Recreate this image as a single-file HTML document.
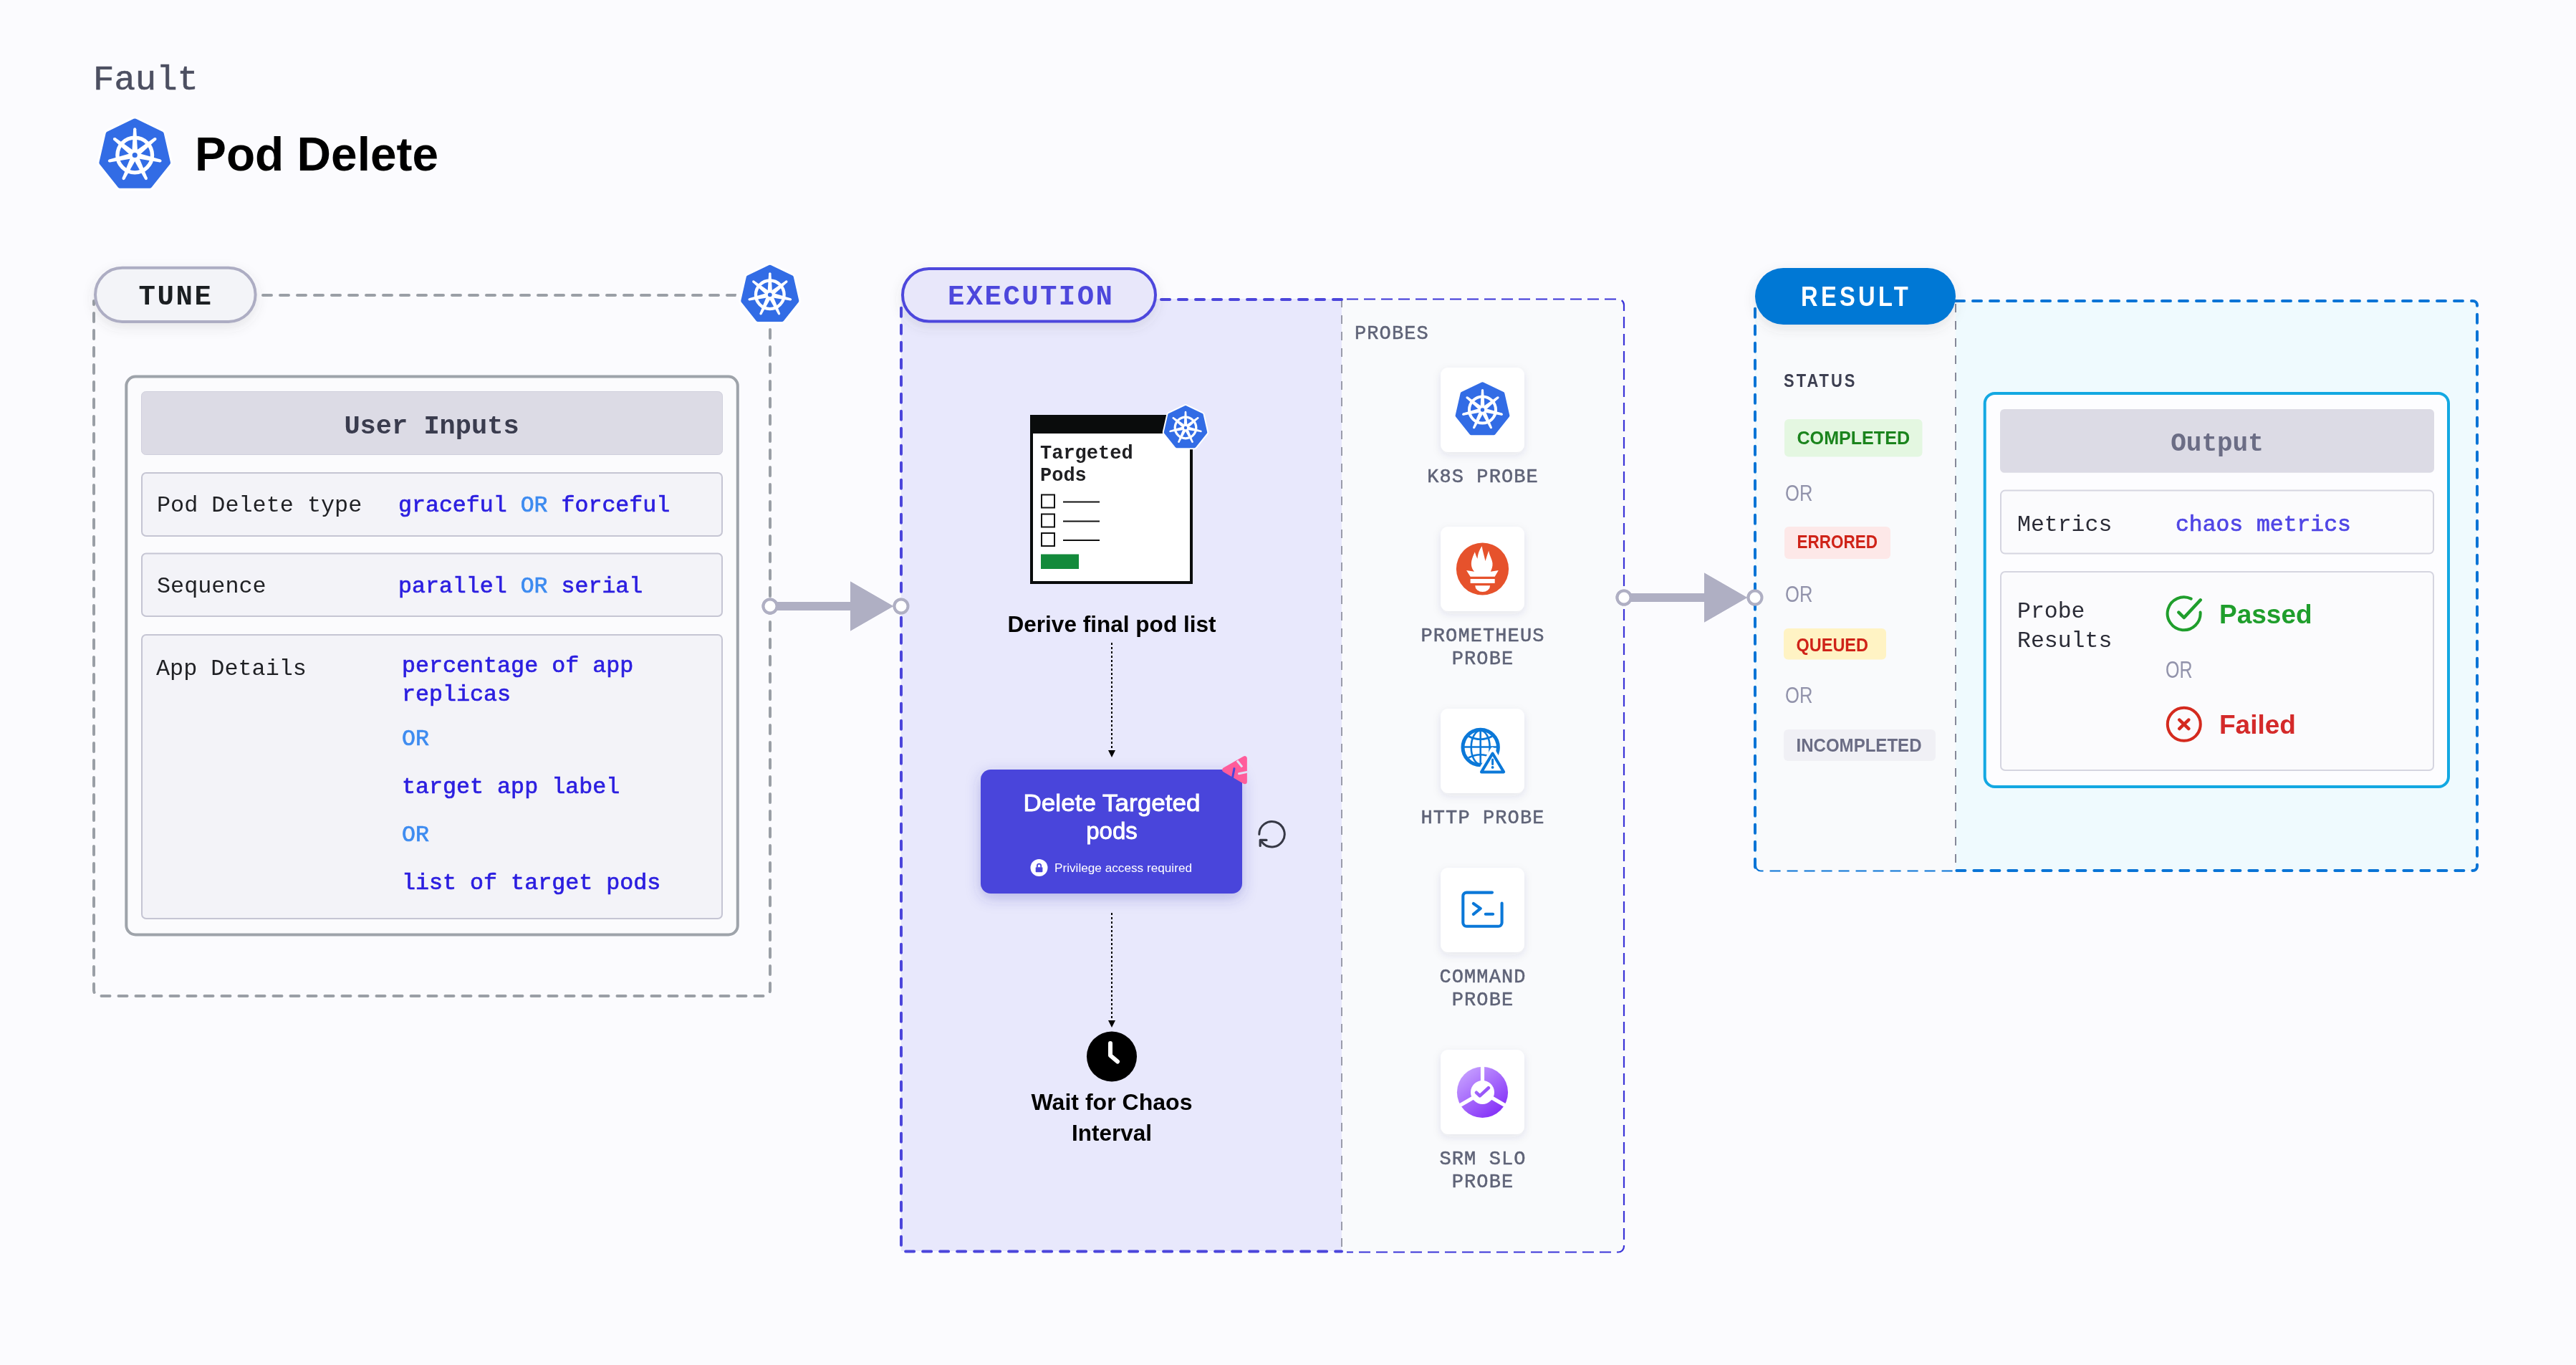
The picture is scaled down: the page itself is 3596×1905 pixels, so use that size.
<!DOCTYPE html><html><head><meta charset="utf-8"><style>html,body{margin:0;padding:0;background:#fbfbfe;}svg{display:block;will-change:transform}</style></head><body>
<svg width="3596" height="1905" viewBox="0 0 3596 1905">
<defs>
<filter id="sh" x="-40%" y="-60%" width="180%" height="240%"><feDropShadow dx="0" dy="6" stdDeviation="8" flood-color="#50505a" flood-opacity="0.13"/></filter>
<filter id="sh2" x="-40%" y="-40%" width="180%" height="200%"><feDropShadow dx="0" dy="4" stdDeviation="6" flood-color="#3c3c64" flood-opacity="0.10"/></filter>
<filter id="sh3" x="-40%" y="-60%" width="180%" height="240%"><feDropShadow dx="0" dy="6" stdDeviation="10" flood-color="#3a36b0" flood-opacity="0.30"/></filter>
<linearGradient id="srm" x1="0.15" y1="0.05" x2="0.85" y2="0.95"><stop offset="0" stop-color="#c6a0ff"/><stop offset="1" stop-color="#822cf7"/></linearGradient><linearGradient id="srm2" gradientUnits="userSpaceOnUse" x1="2060" y1="1516" x2="2078" y2="1530"><stop offset="0" stop-color="#a670fb"/><stop offset="1" stop-color="#9248f8"/></linearGradient>
</defs>
<rect x="0" y="0" width="3596" height="1905" fill="#fbfbfe"/>
<text x="130" y="124.6" font-family="Liberation Mono" font-size="49" fill="#4c4f61" font-weight="400" stroke="#4c4f61" stroke-width="0.6" >Fault</text>
<polygon points="188.20,169.07 225.28,186.93 234.44,227.05 208.78,259.23 167.62,259.23 141.96,227.05 151.12,186.93" fill="#fff" stroke="#fff" stroke-width="13.14" stroke-linejoin="round"/>
<polygon points="188.20,169.07 225.28,186.93 234.44,227.05 208.78,259.23 167.62,259.23 141.96,227.05 151.12,186.93" fill="#326ce5" stroke="#326ce5" stroke-width="7.14" stroke-linejoin="round"/>
<circle cx="188.2" cy="216.5" r="24.33" fill="none" stroke="#fff" stroke-width="5.35"/>
<polygon points="192.02,210.38 190.24,180.29 186.16,180.29 184.38,210.38" fill="#fff"/>
<circle cx="188.20" cy="180.29" r="2.04" fill="#fff"/>
<polygon points="195.37,215.67 217.78,195.52 215.24,192.33 190.60,209.69" fill="#fff"/>
<circle cx="216.51" cy="193.92" r="2.04" fill="#fff"/>
<polygon points="193.32,221.59 223.05,226.55 223.96,222.57 195.02,214.13" fill="#fff"/>
<circle cx="223.50" cy="224.56" r="2.04" fill="#fff"/>
<polygon points="187.41,223.67 202.07,250.01 205.75,248.24 194.30,220.35" fill="#fff"/>
<circle cx="203.91" cy="249.12" r="2.04" fill="#fff"/>
<polygon points="182.10,220.35 170.65,248.24 174.33,250.01 188.99,223.67" fill="#fff"/>
<circle cx="172.49" cy="249.12" r="2.04" fill="#fff"/>
<polygon points="181.38,214.13 152.44,222.57 153.35,226.55 183.08,221.59" fill="#fff"/>
<circle cx="152.90" cy="224.56" r="2.04" fill="#fff"/>
<polygon points="185.80,209.69 161.16,192.33 158.62,195.52 181.03,215.67" fill="#fff"/>
<circle cx="159.89" cy="193.92" r="2.04" fill="#fff"/>
<circle cx="188.2" cy="216.5" r="7.14" fill="#fff"/>
<circle cx="188.2" cy="216.5" r="3.57" fill="#326ce5"/>
<text x="272" y="238" font-family="Liberation Sans" font-size="65.8" fill="#000" font-weight="700" >Pod Delete</text>
<path d="M1027 412 H352" fill="none" stroke="#9a9fa6" stroke-width="4" stroke-dasharray="12 12" stroke-linecap="round"/>
<path d="M1075 460 V1382 A8 8 0 0 1 1067 1390 H139 A8 8 0 0 1 131 1382 V420" fill="none" stroke="#9a9fa6" stroke-width="4" stroke-dasharray="12 12" stroke-linecap="round"/>
<rect x="133" y="373.7" width="223.6" height="75.2" rx="37.6" fill="#f3f4f8" stroke="#adadc3" stroke-width="4" filter="url(#sh)"/>
<text x="193.5" y="425" font-family="Liberation Mono" font-size="39" fill="#1b1f22" font-weight="700" letter-spacing="2.6" >TUNE</text>
<polygon points="1074.80,372.71 1104.97,387.24 1112.43,419.89 1091.55,446.07 1058.05,446.07 1037.17,419.89 1044.63,387.24" fill="#fbfbfe" stroke="#fbfbfe" stroke-width="21.81" stroke-linejoin="round"/>
<polygon points="1074.80,372.71 1104.97,387.24 1112.43,419.89 1091.55,446.07 1058.05,446.07 1037.17,419.89 1044.63,387.24" fill="#326ce5" stroke="#326ce5" stroke-width="5.81" stroke-linejoin="round"/>
<circle cx="1074.8" cy="411.3" r="19.80" fill="none" stroke="#fff" stroke-width="4.36"/>
<polygon points="1077.91,406.32 1076.46,381.84 1073.14,381.84 1071.69,406.32" fill="#fff"/>
<circle cx="1074.80" cy="381.84" r="1.66" fill="#fff"/>
<polygon points="1080.63,410.63 1098.87,394.23 1096.80,391.63 1076.75,405.76" fill="#fff"/>
<circle cx="1097.84" cy="392.93" r="1.66" fill="#fff"/>
<polygon points="1078.96,415.44 1103.16,419.47 1103.90,416.24 1080.35,409.37" fill="#fff"/>
<circle cx="1103.53" cy="417.86" r="1.66" fill="#fff"/>
<polygon points="1074.16,417.14 1086.09,438.57 1089.08,437.13 1079.77,414.44" fill="#fff"/>
<circle cx="1087.58" cy="437.85" r="1.66" fill="#fff"/>
<polygon points="1069.83,414.44 1060.52,437.13 1063.51,438.57 1075.44,417.14" fill="#fff"/>
<circle cx="1062.02" cy="437.85" r="1.66" fill="#fff"/>
<polygon points="1069.25,409.37 1045.70,416.24 1046.44,419.47 1070.64,415.44" fill="#fff"/>
<circle cx="1046.07" cy="417.86" r="1.66" fill="#fff"/>
<polygon points="1072.85,405.76 1052.80,391.63 1050.73,394.23 1068.97,410.63" fill="#fff"/>
<circle cx="1051.76" cy="392.93" r="1.66" fill="#fff"/>
<circle cx="1074.8" cy="411.3" r="5.81" fill="#fff"/>
<circle cx="1074.8" cy="411.3" r="2.91" fill="#326ce5"/>
<polygon points="1074.80,372.71 1104.97,387.24 1112.43,419.89 1091.55,446.07 1058.05,446.07 1037.17,419.89 1044.63,387.24" fill="#fff" stroke="#fff" stroke-width="11.81" stroke-linejoin="round"/>
<polygon points="1074.80,372.71 1104.97,387.24 1112.43,419.89 1091.55,446.07 1058.05,446.07 1037.17,419.89 1044.63,387.24" fill="#326ce5" stroke="#326ce5" stroke-width="5.81" stroke-linejoin="round"/>
<circle cx="1074.8" cy="411.3" r="19.80" fill="none" stroke="#fff" stroke-width="4.36"/>
<polygon points="1077.91,406.32 1076.46,381.84 1073.14,381.84 1071.69,406.32" fill="#fff"/>
<circle cx="1074.80" cy="381.84" r="1.66" fill="#fff"/>
<polygon points="1080.63,410.63 1098.87,394.23 1096.80,391.63 1076.75,405.76" fill="#fff"/>
<circle cx="1097.84" cy="392.93" r="1.66" fill="#fff"/>
<polygon points="1078.96,415.44 1103.16,419.47 1103.90,416.24 1080.35,409.37" fill="#fff"/>
<circle cx="1103.53" cy="417.86" r="1.66" fill="#fff"/>
<polygon points="1074.16,417.14 1086.09,438.57 1089.08,437.13 1079.77,414.44" fill="#fff"/>
<circle cx="1087.58" cy="437.85" r="1.66" fill="#fff"/>
<polygon points="1069.83,414.44 1060.52,437.13 1063.51,438.57 1075.44,417.14" fill="#fff"/>
<circle cx="1062.02" cy="437.85" r="1.66" fill="#fff"/>
<polygon points="1069.25,409.37 1045.70,416.24 1046.44,419.47 1070.64,415.44" fill="#fff"/>
<circle cx="1046.07" cy="417.86" r="1.66" fill="#fff"/>
<polygon points="1072.85,405.76 1052.80,391.63 1050.73,394.23 1068.97,410.63" fill="#fff"/>
<circle cx="1051.76" cy="392.93" r="1.66" fill="#fff"/>
<circle cx="1074.8" cy="411.3" r="5.81" fill="#fff"/>
<circle cx="1074.8" cy="411.3" r="2.91" fill="#326ce5"/>
<rect x="176.3" y="525.5" width="853.5" height="779" rx="13" fill="#fbfbfd" stroke="#9ea3aa" stroke-width="4"/>
<rect x="197.5" y="546.5" width="811" height="88" rx="6" fill="#dcdbe5" stroke="#cfcfdc" stroke-width="1"/>
<text x="602.5" y="604.7" font-family="Liberation Mono" font-size="37" fill="#3a3c4e" font-weight="700" text-anchor="middle" >User Inputs</text>
<rect x="198" y="660" width="810" height="88" rx="6" fill="#f3f3f8" stroke="#c5c5d3" stroke-width="2"/>
<rect x="198" y="772.5" width="810" height="87.5" rx="6" fill="#f3f3f8" stroke="#c5c5d3" stroke-width="2"/>
<rect x="198" y="886" width="810" height="396" rx="6" fill="#f3f3f8" stroke="#c5c5d3" stroke-width="2"/>
<text x="219" y="714.2" font-family="Liberation Mono" font-size="31.8" fill="#1f2024" font-weight="400" >Pod Delete type</text>
<text x="556" y="714.2" font-family="Liberation Mono" font-size="31.6" fill="#2b1ee0" font-weight="500" stroke="#2b1ee0" stroke-width="0.7" >graceful <tspan fill="#3d8bf0" stroke="#3d8bf0">OR</tspan> forceful</text>
<text x="219" y="827.3" font-family="Liberation Mono" font-size="31.8" fill="#1f2024" font-weight="400" >Sequence</text>
<text x="556" y="827.3" font-family="Liberation Mono" font-size="31.6" fill="#2b1ee0" font-weight="500" stroke="#2b1ee0" stroke-width="0.7" >parallel <tspan fill="#3d8bf0" stroke="#3d8bf0">OR</tspan> serial</text>
<text x="218" y="942" font-family="Liberation Mono" font-size="31.8" fill="#1f2024" font-weight="400" >App Details</text>
<text x="561" y="937.5" font-family="Liberation Mono" font-size="31.7" fill="#2b1ee0" font-weight="500" stroke="#2b1ee0" stroke-width="0.7" >percentage of app</text>
<text x="561" y="978" font-family="Liberation Mono" font-size="31.7" fill="#2b1ee0" font-weight="500" stroke="#2b1ee0" stroke-width="0.7" >replicas</text>
<text x="561" y="1039.5" font-family="Liberation Mono" font-size="31.7" fill="#3d8bf0" font-weight="500" stroke="#3d8bf0" stroke-width="0.7" >OR</text>
<text x="561" y="1107" font-family="Liberation Mono" font-size="31.7" fill="#2b1ee0" font-weight="500" stroke="#2b1ee0" stroke-width="0.7" >target app label</text>
<text x="561" y="1174.3" font-family="Liberation Mono" font-size="31.7" fill="#3d8bf0" font-weight="500" stroke="#3d8bf0" stroke-width="0.7" >OR</text>
<text x="561" y="1240.5" font-family="Liberation Mono" font-size="31.7" fill="#2b1ee0" font-weight="500" stroke="#2b1ee0" stroke-width="0.7" >list of target pods</text>
<rect x="1075" y="840.0" width="114" height="12" fill="#afafc3"/>
<polygon points="1187,811.5 1247,846 1187,880.5" fill="#afafc3"/>
<circle cx="1075" cy="846" r="9.5" fill="#fff" stroke="#afafc3" stroke-width="4"/>
<circle cx="1258" cy="846" r="9.5" fill="#fff" stroke="#afafc3" stroke-width="4"/>
<rect x="1258" y="417" width="615" height="1329" fill="#e8e8fc"/>
<rect x="1873" y="417" width="394" height="1330" fill="#f9fafc"/>
<line x1="1873" y1="417" x2="1873" y2="1746" stroke="#9a9cab" stroke-width="2" stroke-dasharray="12 11"/>
<path d="M1873 418 H1264 A6 6 0 0 0 1258 424 V1740.5 A6 6 0 0 0 1264 1746.5 H1873" fill="none" stroke="#4b45db" stroke-width="4" stroke-dasharray="12 12" stroke-linecap="round"/>
<path d="M1880 417.5 H2259 A8 8 0 0 1 2267 425.5 V1739.5 A8 8 0 0 1 2259 1747.5 H1880" fill="none" stroke="#3b34d8" stroke-width="2.2" stroke-dasharray="16 8"/>
<rect x="1260" y="375" width="353" height="73.5" rx="36.75" fill="#e8e7fa" stroke="#4d47dc" stroke-width="4" filter="url(#sh)"/>
<text x="1323" y="425" font-family="Liberation Mono" font-size="39" fill="#4d47dc" font-weight="700" letter-spacing="2.4" >EXECUTION</text>
<rect x="1075" y="840.0" width="114" height="12" fill="#afafc3"/>
<polygon points="1187,811.5 1247,846 1187,880.5" fill="#afafc3"/>
<circle cx="1075" cy="846" r="9.5" fill="#fff" stroke="#afafc3" stroke-width="4"/>
<circle cx="1258" cy="846" r="9.5" fill="#fff" stroke="#afafc3" stroke-width="4"/>
<rect x="1440" y="581" width="223" height="232" fill="#fff" stroke="#0a0c0c" stroke-width="4"/>
<rect x="1438" y="579" width="227" height="26" fill="#0a0c0c"/>
<polygon points="1655.00,568.17 1677.54,579.02 1683.11,603.42 1667.51,622.97 1642.49,622.97 1626.89,603.42 1632.46,579.02" fill="#fff" stroke="#fff" stroke-width="8.34" stroke-linejoin="round"/>
<polygon points="1655.00,568.17 1677.54,579.02 1683.11,603.42 1667.51,622.97 1642.49,622.97 1626.89,603.42 1632.46,579.02" fill="#326ce5" stroke="#326ce5" stroke-width="4.34" stroke-linejoin="round"/>
<circle cx="1655" cy="597" r="14.79" fill="none" stroke="#fff" stroke-width="3.25"/>
<polygon points="1657.33,593.28 1656.24,574.99 1653.76,574.99 1652.67,593.28" fill="#fff"/>
<circle cx="1655.00" cy="574.99" r="1.24" fill="#fff"/>
<polygon points="1659.36,596.50 1672.98,584.25 1671.43,582.31 1656.46,592.86" fill="#fff"/>
<circle cx="1672.21" cy="583.28" r="1.24" fill="#fff"/>
<polygon points="1658.11,600.09 1676.18,603.11 1676.73,600.69 1659.14,595.56" fill="#fff"/>
<circle cx="1676.46" cy="601.90" r="1.24" fill="#fff"/>
<polygon points="1654.52,601.36 1663.43,617.37 1665.67,616.29 1658.71,599.34" fill="#fff"/>
<circle cx="1664.55" cy="616.83" r="1.24" fill="#fff"/>
<polygon points="1651.29,599.34 1644.33,616.29 1646.57,617.37 1655.48,601.36" fill="#fff"/>
<circle cx="1645.45" cy="616.83" r="1.24" fill="#fff"/>
<polygon points="1650.86,595.56 1633.27,600.69 1633.82,603.11 1651.89,600.09" fill="#fff"/>
<circle cx="1633.54" cy="601.90" r="1.24" fill="#fff"/>
<polygon points="1653.54,592.86 1638.57,582.31 1637.02,584.25 1650.64,596.50" fill="#fff"/>
<circle cx="1637.79" cy="583.28" r="1.24" fill="#fff"/>
<circle cx="1655" cy="597" r="4.34" fill="#fff"/>
<circle cx="1655" cy="597" r="2.17" fill="#326ce5"/>
<text x="1452" y="639.8" font-family="Liberation Mono" font-size="27" fill="#1f1f22" font-weight="700" >Targeted</text>
<text x="1452" y="671.3" font-family="Liberation Mono" font-size="27" fill="#1f1f22" font-weight="700" >Pods</text>
<rect x="1454" y="690.5" width="18" height="18" fill="none" stroke="#111" stroke-width="2"/>
<line x1="1484" y1="700.5" x2="1535" y2="700.5" stroke="#111" stroke-width="2"/>
<rect x="1454" y="717.5" width="18" height="18" fill="none" stroke="#111" stroke-width="2"/>
<line x1="1484" y1="727.5" x2="1535" y2="727.5" stroke="#111" stroke-width="2"/>
<rect x="1454" y="744" width="18" height="18" fill="none" stroke="#111" stroke-width="2"/>
<line x1="1484" y1="754" x2="1535" y2="754" stroke="#111" stroke-width="2"/>
<rect x="1453" y="773.5" width="53" height="20.5" fill="#138a3b"/>
<text x="1552" y="882" font-family="Liberation Sans" font-size="31.5" fill="#000" font-weight="700" text-anchor="middle" textLength="291" lengthAdjust="spacingAndGlyphs" >Derive final pod list</text>
<line x1="1552" y1="897" x2="1552" y2="1049" stroke="#000" stroke-width="2" stroke-dasharray="3 3"/>
<polygon points="1547,1047 1557,1047 1552,1057" fill="#000"/>
<rect x="1369" y="1074" width="365" height="173" rx="14" fill="#4a45db" filter="url(#sh3)"/>
<text x="1552" y="1131.5" font-family="Liberation Sans" font-size="33" fill="#fff" font-weight="400" stroke="#fff" stroke-width="0.9" text-anchor="middle" textLength="247" lengthAdjust="spacingAndGlyphs" >Delete Targeted</text>
<text x="1552" y="1171" font-family="Liberation Sans" font-size="33" fill="#fff" font-weight="400" stroke="#fff" stroke-width="0.9" text-anchor="middle" >pods</text>
<circle cx="1450.5" cy="1211" r="12" fill="#fff"/>
<rect x="1445.7" y="1210.3" width="9.7" height="7" rx="1" fill="#4a45db"/>
<path d="M1447.9 1210.5 v-2.3 a2.65 2.65 0 0 1 5.3 0 v2.3" fill="none" stroke="#4a45db" stroke-width="1.8"/>
<text x="1472" y="1217" font-family="Liberation Sans" font-size="17" fill="#fff" font-weight="400" textLength="192" lengthAdjust="spacingAndGlyphs" >Privilege access required</text>
<polygon points="1709.5,1074.4 1737.6,1058.4 1737.6,1091" fill="#ff5c9b" stroke="#ff5c9b" stroke-width="6.5" stroke-linejoin="round"/>
<line x1="1726.9" y1="1061.5" x2="1734.1" y2="1070.4" stroke="#dfe0f6" stroke-width="3"/>
<line x1="1723" y1="1072.6" x2="1720.4" y2="1086" stroke="#4a45db" stroke-width="3" stroke-linecap="round"/>
<line x1="1729.5" y1="1079.8" x2="1742" y2="1077.1" stroke="#dfe0f6" stroke-width="3" stroke-linecap="round"/>
<path d="M1757.8,1164.5 A17.7,17.7 0 1 1 1761.6,1175.2" fill="none" stroke="#363845" stroke-width="3" stroke-linecap="round"/>
<polyline points="1768,1172.4 1759.2,1172.4 1759.2,1180.5" fill="none" stroke="#363845" stroke-width="3.2" stroke-linecap="round" stroke-linejoin="round"/>
<line x1="1552" y1="1274" x2="1552" y2="1426" stroke="#000" stroke-width="2" stroke-dasharray="3 3"/>
<polygon points="1547,1424 1557,1424 1552,1434" fill="#000"/>
<circle cx="1552" cy="1474.5" r="35" fill="#000"/>
<path d="M1550 1456 v17 l10 8.5" fill="none" stroke="#fff" stroke-width="6" stroke-linecap="round" stroke-linejoin="round"/>
<text x="1552" y="1549" font-family="Liberation Sans" font-size="31" fill="#000" font-weight="700" text-anchor="middle" textLength="225" lengthAdjust="spacingAndGlyphs" >Wait for Chaos</text>
<text x="1552" y="1591.7" font-family="Liberation Sans" font-size="31" fill="#000" font-weight="700" text-anchor="middle" textLength="112" lengthAdjust="spacingAndGlyphs" >Interval</text>
<text x="1891" y="472.6" font-family="Liberation Mono" font-size="27" fill="#5f6377" font-weight="500" stroke="#5f6377" stroke-width="0.5" letter-spacing="1.1" >PROBES</text>
<rect x="2011" y="513" width="117" height="118" rx="11" fill="#fff" filter="url(#sh2)"/>
<text x="2070" y="673.0" font-family="Liberation Mono" font-size="27" fill="#5f6377" font-weight="500" stroke="#5f6377" stroke-width="0.5" text-anchor="middle" letter-spacing="1.1" >K8S PROBE</text>
<rect x="2011" y="735" width="117" height="118" rx="11" fill="#fff" filter="url(#sh2)"/>
<text x="2070" y="895.0" font-family="Liberation Mono" font-size="27" fill="#5f6377" font-weight="500" stroke="#5f6377" stroke-width="0.5" text-anchor="middle" letter-spacing="1.1" >PROMETHEUS</text>
<text x="2070" y="926.5" font-family="Liberation Mono" font-size="27" fill="#5f6377" font-weight="500" stroke="#5f6377" stroke-width="0.5" text-anchor="middle" letter-spacing="1.1" >PROBE</text>
<rect x="2011" y="989" width="117" height="118" rx="11" fill="#fff" filter="url(#sh2)"/>
<text x="2070" y="1149.0" font-family="Liberation Mono" font-size="27" fill="#5f6377" font-weight="500" stroke="#5f6377" stroke-width="0.5" text-anchor="middle" letter-spacing="1.1" >HTTP PROBE</text>
<rect x="2011" y="1211" width="117" height="118" rx="11" fill="#fff" filter="url(#sh2)"/>
<text x="2070" y="1371.0" font-family="Liberation Mono" font-size="27" fill="#5f6377" font-weight="500" stroke="#5f6377" stroke-width="0.5" text-anchor="middle" letter-spacing="1.1" >COMMAND</text>
<text x="2070" y="1402.5" font-family="Liberation Mono" font-size="27" fill="#5f6377" font-weight="500" stroke="#5f6377" stroke-width="0.5" text-anchor="middle" letter-spacing="1.1" >PROBE</text>
<rect x="2011" y="1465" width="117" height="118" rx="11" fill="#fff" filter="url(#sh2)"/>
<text x="2070" y="1625.0" font-family="Liberation Mono" font-size="27" fill="#5f6377" font-weight="500" stroke="#5f6377" stroke-width="0.5" text-anchor="middle" letter-spacing="1.1" >SRM SLO</text>
<text x="2070" y="1656.5" font-family="Liberation Mono" font-size="27" fill="#5f6377" font-weight="500" stroke="#5f6377" stroke-width="0.5" text-anchor="middle" letter-spacing="1.1" >PROBE</text>
<polygon points="2069.50,535.92 2097.71,549.50 2104.68,580.03 2085.16,604.51 2053.84,604.51 2034.32,580.03 2041.29,549.50" fill="#326ce5" stroke="#326ce5" stroke-width="5.43" stroke-linejoin="round"/>
<circle cx="2069.5" cy="572" r="18.51" fill="none" stroke="#fff" stroke-width="4.07"/>
<polygon points="2072.41,567.34 2071.05,544.45 2067.95,544.45 2066.59,567.34" fill="#fff"/>
<circle cx="2069.50" cy="544.45" r="1.55" fill="#fff"/>
<polygon points="2074.95,571.37 2092.01,556.04 2090.07,553.61 2071.33,566.82" fill="#fff"/>
<circle cx="2091.04" cy="554.82" r="1.55" fill="#fff"/>
<polygon points="2073.39,575.87 2096.01,579.64 2096.70,576.62 2074.69,570.20" fill="#fff"/>
<circle cx="2096.36" cy="578.13" r="1.55" fill="#fff"/>
<polygon points="2068.90,577.46 2080.05,597.49 2082.85,596.15 2074.14,574.93" fill="#fff"/>
<circle cx="2081.45" cy="596.82" r="1.55" fill="#fff"/>
<polygon points="2064.86,574.93 2056.15,596.15 2058.95,597.49 2070.10,577.46" fill="#fff"/>
<circle cx="2057.55" cy="596.82" r="1.55" fill="#fff"/>
<polygon points="2064.31,570.20 2042.30,576.62 2042.99,579.64 2065.61,575.87" fill="#fff"/>
<circle cx="2042.64" cy="578.13" r="1.55" fill="#fff"/>
<polygon points="2067.67,566.82 2048.93,553.61 2046.99,556.04 2064.05,571.37" fill="#fff"/>
<circle cx="2047.96" cy="554.82" r="1.55" fill="#fff"/>
<circle cx="2069.5" cy="572" r="5.43" fill="#fff"/>
<circle cx="2069.5" cy="572" r="2.72" fill="#326ce5"/>
<circle cx="2069.5" cy="794" r="36.6" fill="#e6522c"/>
<path d="M2047.1,795.9 L2058.1,797.7 C2053.5,793 2053,786 2055,780 C2056,776 2058,773 2058.8,770.3 C2060,774 2061,777.5 2062.5,779.8 C2063,772 2066,766 2068.7,762.2 C2069.5,768 2072,776 2073.5,783.1 C2075,778 2077,772 2078.2,768.4 C2079,775 2083,780 2083.5,786 C2084,791 2082,795 2080.8,797.7 L2091.8,795.9 L2086.7,804.7 L2052.6,804.7 Z" fill="#fff"/>
<rect x="2052.6" y="808" width="34.1" height="5.9" fill="#fff"/>
<path d="M2059.2 817.2 H2080.1 A10.45 8.8 0 0 1 2059.2 817.2 Z" fill="#fff"/>
<circle cx="2066.7" cy="1043" r="24.7" fill="none" stroke="#0b78d8" stroke-width="5"/>
<g fill="none" stroke="#0b78d8" stroke-width="2.6">
<ellipse cx="2066.7" cy="1043" rx="13" ry="23.5"/><line x1="2043" y1="1042.5" x2="2090" y2="1042.5"/><line x1="2066.7" y1="1019" x2="2066.7" y2="1067"/>
<path d="M2050 1027.5 Q2066.7 1036 2083 1027.5"/><path d="M2050 1057.5 Q2066.7 1049 2083 1057.5"/>
</g>
<path d="M2083.6,1046 L2103.5,1080.5 L2063.7,1080.5 Z" fill="#fff" stroke="#fff" stroke-width="6" stroke-linejoin="round"/>
<path d="M2083.6,1051.5 L2099.2,1077.4 L2068,1077.4 Z" fill="#fff" stroke="#0b78d8" stroke-width="4" stroke-linejoin="round"/>
<line x1="2083.6" y1="1060" x2="2083.6" y2="1066.5" stroke="#0b78d8" stroke-width="3" stroke-linecap="round"/><circle cx="2083.6" cy="1070.9" r="1.9" fill="#0b78d8"/>
<path d="M2083 1245.6 H2047.3 A5 5 0 0 0 2042.3 1250.6 V1287.8 A5 5 0 0 0 2047.3 1292.8 H2091.6 A5 5 0 0 0 2096.6 1287.8 V1260.5" fill="none" stroke="#0b78d8" stroke-width="4.1" stroke-linecap="round"/>
<polyline points="2056.9,1261 2066.7,1267.9 2056.9,1275.9" fill="none" stroke="#0b78d8" stroke-width="4.1" stroke-linecap="round" stroke-linejoin="round"/>
<line x1="2073.8" y1="1275.7" x2="2084.1" y2="1275.7" stroke="#0b78d8" stroke-width="4.1" stroke-linecap="round"/>
<circle cx="2069.5" cy="1524.4" r="35.6" fill="url(#srm)"/>
<circle cx="2069.5" cy="1524.4" r="16.5" fill="#fff"/>
<line x1="2069.5" y1="1524.4" x2="2069.50" y2="1484.40" stroke="#fff" stroke-width="5.2"/>
<line x1="2069.5" y1="1524.4" x2="2104.14" y2="1544.40" stroke="#fff" stroke-width="5.2"/>
<line x1="2069.5" y1="1524.4" x2="2034.86" y2="1544.40" stroke="#fff" stroke-width="5.2"/>
<polyline points="2061,1524.8 2065.8,1529.4 2077.9,1518.2" fill="none" stroke="url(#srm2)" stroke-width="4.6" stroke-linecap="round" stroke-linejoin="round"/>
<rect x="2267" y="828.0" width="114" height="12" fill="#afafc3"/>
<polygon points="2379,799.5 2439,834 2379,868.5" fill="#afafc3"/>
<circle cx="2267" cy="834" r="9.5" fill="#fff" stroke="#afafc3" stroke-width="4"/>
<circle cx="2450" cy="834" r="9.5" fill="#fff" stroke="#afafc3" stroke-width="4"/>
<rect x="2450" y="420" width="1008" height="795" rx="6" fill="#effafe"/>
<rect x="2453" y="420" width="277" height="795.5" fill="#f9fafc"/>
<line x1="2730" y1="424" x2="2730" y2="1215" stroke="#6b6d80" stroke-width="1.6" stroke-dasharray="12 12"/>
<path d="M2730 420 H3452 A6 6 0 0 1 3458 426 V1209 A6 6 0 0 1 3452 1215 H2730" fill="none" stroke="#0a74d6" stroke-width="4" stroke-dasharray="12 12" stroke-linecap="round"/>
<path d="M2730 420 H2456 A6 6 0 0 0 2450 426 V1209 A6 6 0 0 0 2456 1215" fill="none" stroke="#0a74d6" stroke-width="4" stroke-dasharray="12 12" stroke-linecap="round"/>
<path d="M2451 1208 A7 7 0 0 0 2458 1215.5 H2730" fill="none" stroke="#0a74d6" stroke-width="2.2" stroke-dasharray="15 9"/>
<rect x="2450" y="374" width="280" height="79" rx="39.5" fill="#0278d5" filter="url(#sh)"/>
<rect x="2267" y="828.0" width="114" height="12" fill="#afafc3"/>
<polygon points="2379,799.5 2439,834 2379,868.5" fill="#afafc3"/>
<circle cx="2267" cy="834" r="9.5" fill="#fff" stroke="#afafc3" stroke-width="4"/>
<circle cx="2450" cy="834" r="9.5" fill="#fff" stroke="#afafc3" stroke-width="4"/>
<text transform="translate(2514,427.3) scale(0.86,1)" x="0" y="0" font-family="Liberation Sans" font-size="38" fill="#fff" font-weight="700" letter-spacing="5" >RESULT</text>
<text transform="translate(2490,540) scale(0.86,1)" x="0" y="0" font-family="Liberation Sans" font-size="25.5" fill="#3d3f51" font-weight="700" letter-spacing="3.5" >STATUS</text>
<rect x="2491" y="585" width="192.5" height="52.5" rx="6" fill="#e4f7e1"/>
<text x="2508.5" y="620" font-family="Liberation Sans" font-size="25" fill="#1b841d" font-weight="700" textLength="157.5" lengthAdjust="spacingAndGlyphs" >COMPLETED</text>
<text transform="translate(2492,698.5) scale(0.8,1)" x="0" y="0" font-family="Liberation Sans" font-size="32" fill="#9293ab" font-weight="400" >OR</text>
<rect x="2491" y="735" width="148" height="45" rx="6" fill="#fde8e8"/>
<text x="2508.5" y="765" font-family="Liberation Sans" font-size="25" fill="#cf2318" font-weight="700" textLength="112.5" lengthAdjust="spacingAndGlyphs" >ERRORED</text>
<text transform="translate(2492,840.3) scale(0.8,1)" x="0" y="0" font-family="Liberation Sans" font-size="32" fill="#9293ab" font-weight="400" >OR</text>
<rect x="2490" y="877" width="143" height="43.6" rx="6" fill="#fff3c4"/>
<text x="2507.5" y="908.6" font-family="Liberation Sans" font-size="25" fill="#cf2318" font-weight="700" textLength="100.5" lengthAdjust="spacingAndGlyphs" >QUEUED</text>
<text transform="translate(2492,981.4) scale(0.8,1)" x="0" y="0" font-family="Liberation Sans" font-size="32" fill="#9293ab" font-weight="400" >OR</text>
<rect x="2490" y="1018" width="212" height="44" rx="6" fill="#f0f0f5"/>
<text x="2507.5" y="1049" font-family="Liberation Sans" font-size="25" fill="#6b6d85" font-weight="700" textLength="175" lengthAdjust="spacingAndGlyphs" >INCOMPLETED</text>
<rect x="2770.7" y="549" width="647.3" height="549" rx="14" fill="#fdfdff" stroke="#13a8e2" stroke-width="4"/>
<rect x="2792" y="571" width="606" height="88.7" rx="6" fill="#dcdbe5"/>
<text x="3095" y="628.5" font-family="Liberation Mono" font-size="36" fill="#6b6d85" font-weight="700" text-anchor="middle" >Output</text>
<rect x="2793" y="684.6" width="604" height="88" rx="6" fill="#fbfbfd" stroke="#d5d5e0" stroke-width="2"/>
<rect x="2793" y="798" width="604" height="277" rx="6" fill="#fbfbfd" stroke="#d5d5e0" stroke-width="2"/>
<text x="2816" y="741" font-family="Liberation Mono" font-size="31.5" fill="#2a2b36" font-weight="400" >Metrics</text>
<text x="3037" y="741" font-family="Liberation Mono" font-size="31.4" fill="#5046e5" font-weight="500" stroke="#5046e5" stroke-width="0.7" >chaos metrics</text>
<text x="2816" y="862" font-family="Liberation Mono" font-size="31.5" fill="#2a2b36" font-weight="400" >Probe</text>
<text x="2816" y="903" font-family="Liberation Mono" font-size="31.5" fill="#2a2b36" font-weight="400" >Results</text>
<path d="M3058.7,835.6 A23,23 0 1 0 3071.6,854.6" fill="none" stroke="#1f9e2c" stroke-width="4" stroke-linecap="round"/>
<polyline points="3041.4,854.6 3048.8,862 3071.8,837.3" fill="none" stroke="#1f9e2c" stroke-width="4.5" stroke-linecap="round" stroke-linejoin="round"/>
<text x="3098" y="870" font-family="Liberation Sans" font-size="37" fill="#1f9e2c" font-weight="700" >Passed</text>
<text transform="translate(3023,946) scale(0.76,1)" x="0" y="0" font-family="Liberation Sans" font-size="33" fill="#9293ab" font-weight="400" >OR</text>
<circle cx="3048.8" cy="1010.8" r="23" fill="none" stroke="#d42a1e" stroke-width="4"/>
<path d="M3042.3 1004.6 L3055.3 1017 M3055.3 1004.6 L3042.3 1017" stroke="#d42a1e" stroke-width="4.5" stroke-linecap="round"/>
<text x="3098" y="1024.4" font-family="Liberation Sans" font-size="37" fill="#d42a2a" font-weight="700" >Failed</text>
</svg></body></html>
